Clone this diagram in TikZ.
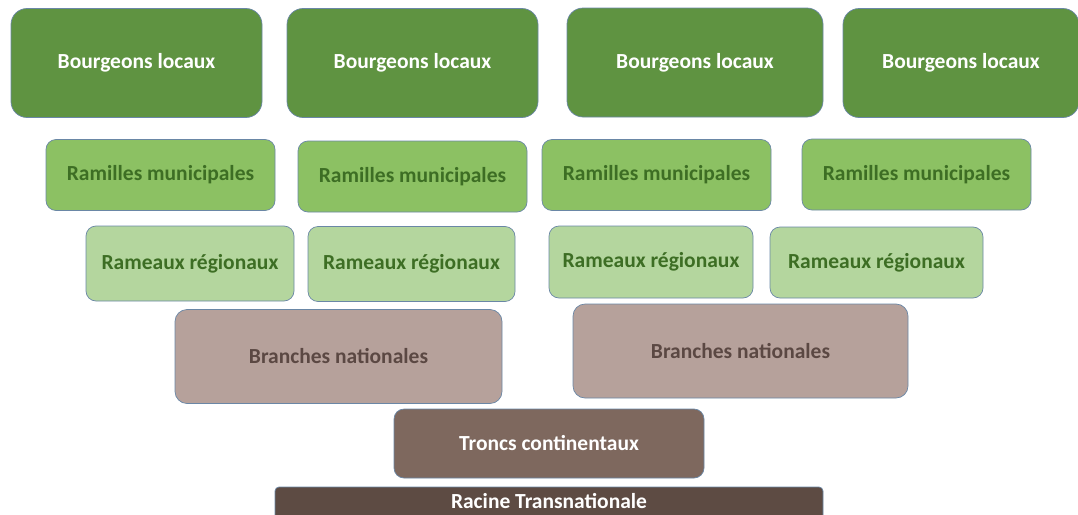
\documentclass[tikz,border=0pt]{standalone}
\usepackage{fontspec}
\setmainfont{Carlito}
\definecolor{budfill}{HTML}{5F9341}
\definecolor{twigfill}{HTML}{8CC163}
\definecolor{twigtext}{HTML}{3D6E24}
\definecolor{rodfill}{HTML}{B4D69E}
\definecolor{branchfill}{HTML}{B6A19B}
\definecolor{branchtext}{HTML}{5B4843}
\definecolor{trunkfill}{HTML}{7E685E}
\definecolor{rootfill}{HTML}{5D4B43}
\definecolor{edge}{HTML}{6A87A6}
\begin{document}
\begin{tikzpicture}[x=1pt, y=-1pt,
  box/.style={rectangle, draw=edge, line width=0.7pt, inner sep=0pt, font=\bfseries\fontsize{21.5}{25}\selectfont},
  bud/.style={box, fill=budfill, text=white, rounded corners=16pt, minimum height=109pt},
  twig/.style={box, fill=twigfill, text=twigtext, rounded corners=10pt, minimum width=229pt, minimum height=71pt},
  rod/.style={box, fill=rodfill, text=twigtext, rounded corners=10pt, minimum height=75pt},
  branch/.style={box, fill=branchfill, text=branchtext, rounded corners=12pt, minimum height=94pt},
  trunk/.style={box, fill=trunkfill, text=white, rounded corners=10pt},
  root/.style={box, fill=rootfill, text=white, rounded corners=4pt}]
\useasboundingbox (0,0) rectangle (1078,514);
\clip (0,0) rectangle (1078,514);
% buds
\node[bud, minimum width=251pt] (bud0) at (136.5,63){Bourgeons locaux};
\node[bud, minimum width=251pt] (bud1) at (412.5,63){Bourgeons locaux};
\node[bud, minimum width=256pt] (bud2) at (695,62.5){Bourgeons locaux};
\node[bud, minimum width=236pt] (bud3) at (961,63){Bourgeons locaux};
% twigs
\node[twig] (twig0) at (160.5,175){Ramilles municipales};
\node[twig] (twig1) at (412.5,176.5){Ramilles municipales};
\node[twig] (twig2) at (656.5,175){Ramilles municipales};
\node[twig] (twig3) at (916.5,174.5){Ramilles municipales};
% rods
\node[rod, minimum width=208pt] (rod0) at (190,263.5){Rameaux régionaux};
\node[rod, minimum width=207pt] (rod1) at (411.5,264){Rameaux régionaux};
\node[rod, minimum width=204pt, minimum height=72pt] (rod2) at (651,262){Rameaux régionaux};
\node[rod, minimum width=213pt, minimum height=71pt] (rod3) at (876.5,262.5){Rameaux régionaux};
% branches
\node[branch, minimum width=327pt] (branch0) at (338.5,356.5){Branches nationales};
\node[branch, minimum width=335pt] (branch1) at (740.5,351){Branches nationales};
% trunk and root
\node[trunk, minimum width=310pt, minimum height=69pt] (trunk) at (549,443.5){Troncs continentaux};
\node[root, minimum width=548pt, minimum height=40pt, text depth=13pt] (root) at (549,507){Racine Transnationale};
\end{tikzpicture}
\end{document}
